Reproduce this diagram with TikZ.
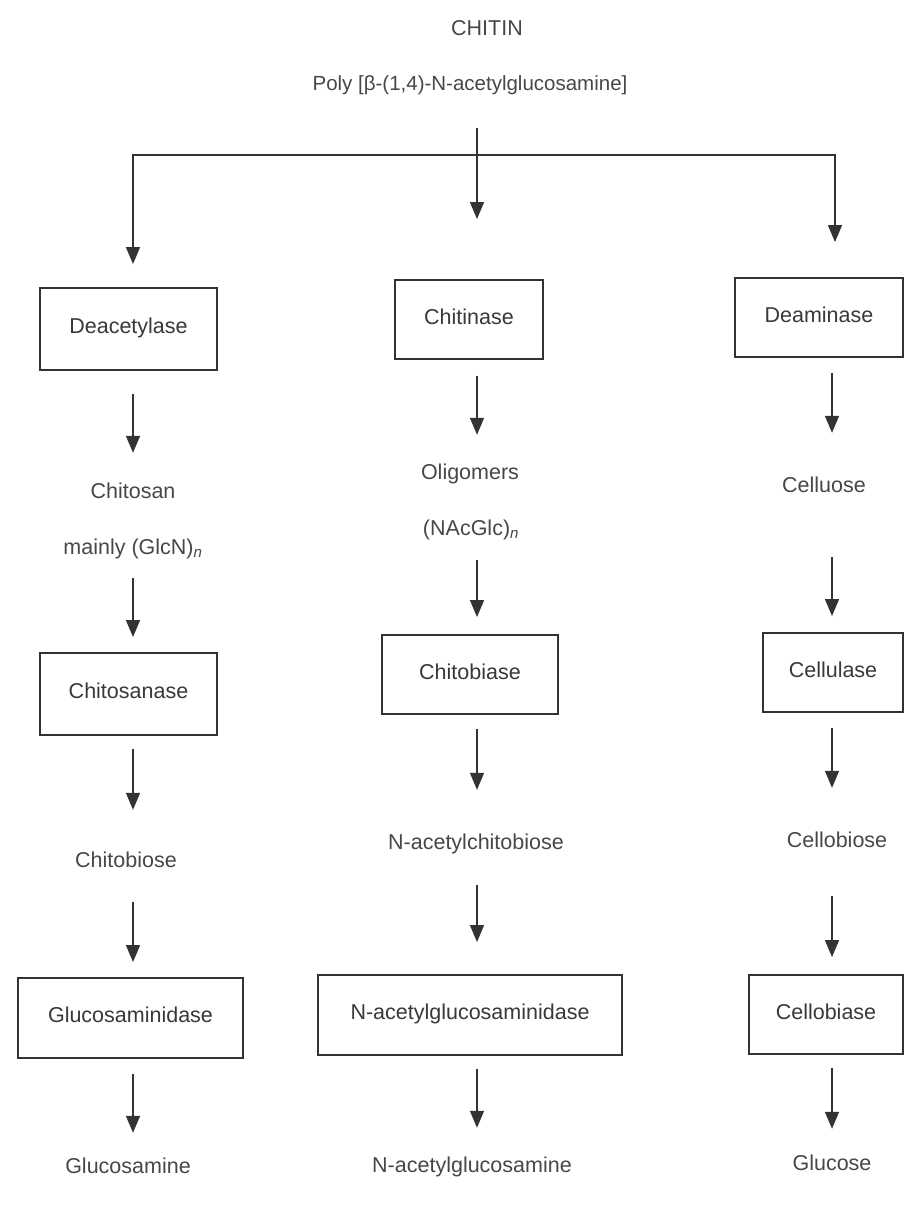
\documentclass[tikz,border=0pt]{standalone}
\usepackage{fontspec}
\setmainfont{Liberation Sans}
\usetikzlibrary{arrows.meta}

\tikzset{
	enzyme/.style={draw=black!80, line width=1.9pt, text=black!78, inner sep=0pt, text height=15pt, text depth=6pt},
	product/.style={text=black!72, inner sep=0pt, text height=15pt, text depth=0pt},
	flow/.style={draw=black!80, line width=1.5pt, -{Triangle[length=17pt,width=14pt]}},
}

\begin{document}
\begin{tikzpicture}[x=1pt, y=-1pt, font=\fontsize{21.5}{25}\selectfont]
	\useasboundingbox (0,0) rectangle (905,1210);
	
	% columns and fork
	\coordinate (colL) at (133,0);
	\coordinate (colC) at (477,0);
	\coordinate (colR) at (832,0);
	\coordinate (forkL) at (133,155);
	\coordinate (forkR) at (835,155);
	
	\node[product] (chitin) at (487, 28)     {CHITIN};
	\node[product, font=\fontsize{20.5}{25}\selectfont] (poly) at (470, 83)     {Poly [β-(1,4)-N-acetylglucosamine]};
	
	% left column
	\node[enzyme, minimum width=177pt, minimum height=82pt] (deacet) at (128.5, 329)     {Deacetylase};
	\node[product] (chitosan) at (133, 491)     {Chitosan};
	\node[product] (glcn) at (133, 547)     {mainly (GlcN)\textsubscript{\textit{n}}};
	\node[enzyme, minimum width=177pt, minimum height=82pt] (chitosanase) at (128.5, 694)     {Chitosanase};
	\node[product] (chitobioseL) at (126, 860)     {Chitobiose};
	\node[enzyme, minimum width=225pt, minimum height=80pt] (glcnase) at (130.5, 1018)     {Glucosaminidase};
	\node[product] (glucosamine) at (128, 1166)     {Glucosamine};
	
	% middle column
	\node[enzyme, minimum width=148pt, minimum height=79pt] (chitinase) at (469, 319.5)     {Chitinase};
	\node[product] (oligo) at (470, 472)     {Oligomers};
	\node[product] (nacglc) at (471, 528)     {(NAcGlc)\textsubscript{\textit{n}}};
	\node[enzyme, minimum width=176pt, minimum height=79pt] (chitobiase) at (470, 674.5)     {Chitobiase};
	\node[product] (nacchito) at (476, 842)     {N-acetylchitobiose};
	\node[enzyme, minimum width=304pt, minimum height=80pt] (nagase) at (470, 1015)     {N-acetylglucosaminidase};
	\node[product] (nag) at (472, 1165)     {N-acetylglucosamine};
	
	% right column
	\node[enzyme, minimum width=168pt, minimum height=79pt] (deamin) at (819, 317.5)     {Deaminase};
	\node[product] (celluose) at (824, 485)     {Celluose};
	\node[enzyme, minimum width=140pt, minimum height=79pt] (cellulase) at (833, 672.5)     {Cellulase};
	\node[product] (cellobiose) at (837, 840)     {Cellobiose};
	\node[enzyme, minimum width=154pt, minimum height=79pt] (cellobiase) at (826, 1014.5)     {Cellobiase};
	\node[product] (glucose) at (832, 1163)     {Glucose};
	
	% split of chitin
	\draw[flow, shorten <=37.5pt, shorten >=60pt] (poly.south -| colC) -- (chitinase.north -| colC);
	\draw[flow, shorten >=23pt] (forkR) -- (forkL) -- (deacet.north -| forkL);
	\draw[flow, shorten >=35pt] (forkL) -- (forkR) -- (deamin.north -| forkR);
	
	\draw[flow, shorten <=23pt, shorten >=30.5pt] (deacet.south -| colL) -- (chitosan.north -| colL);
	\draw[flow, shorten <=23.5pt, shorten >=15pt] (glcn.south -| colL) -- (chitosanase.north -| colL);
	\draw[flow, shorten <=13pt, shorten >=42.5pt] (chitosanase.south -| colL) -- (chitobioseL.north -| colL);
	\draw[flow, shorten <=34.5pt, shorten >=15pt] (chitobioseL.south -| colL) -- (glcnase.north -| colL);
	\draw[flow, shorten <=15pt, shorten >=25.5pt] (glcnase.south -| colL) -- (glucosamine.north -| colL);
	
	\draw[flow, shorten <=16pt, shorten >=29.5pt] (chitinase.south -| colC) -- (oligo.north -| colC);
	\draw[flow, shorten <=24.5pt, shorten >=17pt] (nacglc.south -| colC) -- (chitobiase.north -| colC);
	\draw[flow, shorten <=14pt, shorten >=44.5pt] (chitobiase.south -| colC) -- (nacchito.north -| colC);
	\draw[flow, shorten <=35.5pt, shorten >=32pt] (nacchito.south -| colC) -- (nagase.north -| colC);
	\draw[flow, shorten <=13pt, shorten >=29.5pt] (nagase.south -| colC) -- (nag.north -| colC);
	
	\draw[flow, shorten <=15pt, shorten >=44.5pt] (deamin.south -| colR) -- (celluose.north -| colR);
	\draw[flow, shorten <=64.5pt, shorten >=16pt] (celluose.south -| colR) -- (cellulase.north -| colR);
	\draw[flow, shorten <=15pt, shorten >=44.5pt] (cellulase.south -| colR) -- (cellobiose.north -| colR);
	\draw[flow, shorten <=48.5pt, shorten >=17pt] (cellobiose.south -| colR) -- (cellobiase.north -| colR);
	\draw[flow, shorten <=13pt, shorten >=26.5pt] (cellobiase.south -| colR) -- (glucose.north -| colR);
\end{tikzpicture}
\end{document}
